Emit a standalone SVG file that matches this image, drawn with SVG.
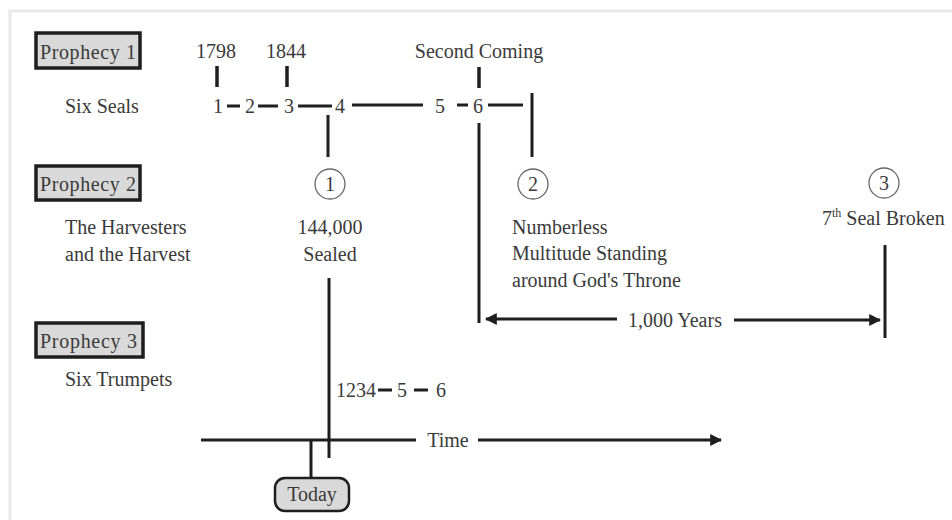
<svg xmlns="http://www.w3.org/2000/svg" width="952" height="520" viewBox="0 0 952 520">
<style>
text{font-family:"Liberation Serif","Times New Roman",serif;font-size:20px;fill:#3a3a3a}
.mid{text-anchor:middle}
.ln{stroke:#1e1e1e;stroke-width:3;fill:none}
.tk{stroke:#1e1e1e;stroke-width:3.5;fill:none}
.pbox{fill:#d9d9d9;stroke:#1e1e1e;stroke-width:3.5}
.circ{fill:#fff;stroke:#666;stroke-width:1.3}
</style>
<defs>
<marker id="ah" viewBox="0 0 10 10" refX="9" refY="5" markerWidth="4" markerHeight="4" orient="auto-start-reverse" markerUnits="strokeWidth">
<path d="M0,0 L10,5 L0,10 z" fill="#1e1e1e"/>
</marker>
</defs>
<rect width="952" height="520" fill="#fff"/>
<rect x="10" y="11" width="960" height="520" fill="none" stroke="#e8e8e8" stroke-width="3"/>

<g id="prophecy1">
<rect class="pbox" x="36" y="33" width="104" height="35"/>
<text x="40" y="59" textLength="96">Prophecy 1</text>
<text x="65" y="113">Six Seals</text>
</g>
<g id="prophecy2">
<rect class="pbox" x="36" y="166" width="104" height="34"/>
<text x="40" y="191" textLength="96">Prophecy 2</text>
<text x="65" y="234">The Harvesters</text>
<text x="65" y="261">and the Harvest</text>
</g>
<g id="prophecy3">
<rect class="pbox" x="36" y="323" width="107" height="34"/>
<text x="40" y="348" textLength="97">Prophecy 3</text>
<text x="65" y="386">Six Trumpets</text>
</g>

<g id="dates">
<text class="mid" x="216" y="58">1798</text>
<text class="mid" x="286" y="58">1844</text>
<text class="mid" x="479" y="58">Second Coming</text>
</g>

<g id="seals">
<text class="mid" x="218" y="113">1</text>
<text class="mid" x="250" y="113">2</text>
<text class="mid" x="289" y="113">3</text>
<text class="mid" x="340" y="113">4</text>
<text class="mid" x="440" y="113">5</text>
<text class="mid" x="478" y="113">6</text>
</g>

<g id="event1">
<circle class="circ" cx="330" cy="184" r="15"/>
<text class="mid" x="330" y="191">1</text>
<text class="mid" x="330" y="234">144,000</text>
<text class="mid" x="330" y="261">Sealed</text>
</g>
<g id="event2">
<circle class="circ" cx="533" cy="184" r="15"/>
<text class="mid" x="533" y="191">2</text>
<text x="512" y="234">Numberless</text>
<text x="512" y="260">Multitude Standing</text>
<text x="512" y="287">around God's Throne</text>
</g>
<g id="event3">
<circle class="circ" cx="884" cy="183" r="15"/>
<text class="mid" x="884" y="190">3</text>
<text x="822" y="225">7<tspan font-size="12" dy="-8">th</tspan><tspan dy="8"> Seal Broken</tspan></text>
</g>

<g id="trumpets">
<text x="336" y="397">1234</text>
<text x="397" y="397">5</text>
<text x="436" y="397">6</text>
</g>

<g id="today">
<rect x="275" y="478" width="74" height="33" rx="10" fill="#d9d9d9" stroke="#1e1e1e" stroke-width="2.5"/>
<text class="mid" x="312" y="501">Today</text>
</g>

<g id="labels">
<text class="mid" x="675" y="327">1,000 Years</text>
<text class="mid" x="448" y="447">Time</text>
</g>

<g id="connectors">
<line class="tk" x1="217" y1="66" x2="217" y2="87"/>
<line class="tk" x1="287" y1="66" x2="287" y2="87"/>
<line class="tk" x1="479" y1="67" x2="479" y2="88"/>
<line class="ln" x1="227" y1="106" x2="240" y2="106"/>
<line class="ln" x1="258" y1="106" x2="278" y2="106"/>
<line class="ln" x1="298" y1="106" x2="332" y2="106"/>
<line class="ln" x1="352" y1="105" x2="423" y2="105"/>
<line class="ln" x1="457" y1="105" x2="468" y2="105"/>
<line class="ln" x1="488" y1="105" x2="523" y2="105"/>
<line class="ln" x1="532" y1="93" x2="532" y2="157"/>
<line class="ln" x1="328" y1="115" x2="328" y2="157"/>
<line class="ln" x1="479" y1="123" x2="479" y2="323"/>
<line class="ln" x1="329" y1="278" x2="329" y2="458"/>
<line class="ln" x1="885" y1="245" x2="885" y2="338"/>
<line class="ln" x1="617" y1="319" x2="486" y2="319" marker-end="url(#ah)"/>
<line class="ln" x1="734" y1="320" x2="880" y2="320" marker-end="url(#ah)"/>
<line class="ln" x1="378" y1="390" x2="392" y2="390"/>
<line class="ln" x1="414" y1="390" x2="428" y2="390"/>
<line class="ln" x1="201" y1="440" x2="416" y2="440"/>
<line class="ln" x1="478" y1="440" x2="721" y2="440" marker-end="url(#ah)"/>
<line class="ln" x1="311" y1="440" x2="311" y2="478"/>
</g>
</svg>
